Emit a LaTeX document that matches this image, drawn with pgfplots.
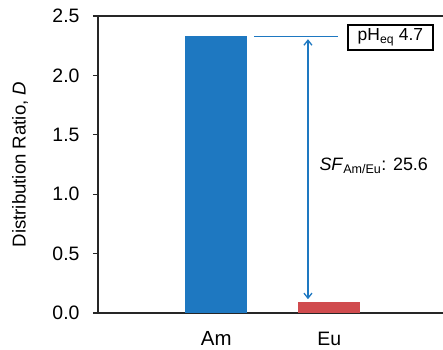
\documentclass[border=0pt]{standalone}
\usepackage{fontspec}
\setmainfont{Liberation Sans}
\usepackage{pgfplots}
\pgfplotsset{compat=1.18}
\usetikzlibrary{arrows.meta}
\definecolor{amblue}{RGB}{30,120,193}
\definecolor{eured}{RGB}{208,75,78}
\begin{document}
\begin{tikzpicture}
\begin{axis}[
  scale only axis, width=345bp, height=297bp,
  xmin=-1.046, xmax=2.007, ymin=0, ymax=2.5,
  axis x line*=box, axis y line*=left,
  axis line style={line width=1.3bp, color=black!85},
  xtick={0,1}, xticklabels={{\fontsize{20.5}{22}\selectfont Am},{Eu}},
  xtick style={draw=none},
  xticklabel style={anchor=base, yshift=-27bp},
  ytick={0,0.5,1,1.5,2,2.5},
  ytick style={line width=1.3bp, color=black!85},
  tick align=outside, major tick length=5bp,
  tick label style={font=\fontsize{19.5}{22}\selectfont},
  yticklabel style={xshift=-10bp, /pgf/number format/.cd, fixed, fixed zerofill, precision=1, assume math mode=true},
  every axis y label/.style={at={(axis description cs:-0.226,0.5)}, rotate=90, anchor=center},
  ylabel={Distribution Ratio, \textit{D}},
  label style={font=\fontsize{18.7}{21}\selectfont},
  clip=false,
]
\addplot[ybar, bar width=62bp, bar shift=0pt, fill=amblue, draw=none] coordinates {(0,2.33)};
\addplot[ybar, bar width=62bp, bar shift=0pt, fill=eured, draw=none] coordinates {(1,0.091)};
\draw[amblue, line width=1.3bp] (axis cs:0.335,2.33) -- (axis cs:1.078,2.33);
\draw[amblue, line width=1.3bp, {Straight Barb[length=5bp,width=8bp]}-{Straight Barb[length=5bp,width=8bp]}, shorten <=3bp, shorten >=3bp] (axis cs:0.812,0.091) -- (axis cs:0.812,2.33);
\node[draw, line width=1.2bp, minimum width=85bp, minimum height=25bp, font=\fontsize{17.5}{19}\selectfont] at (axis cs:1.542,2.319) {pH\textsubscript{eq} 4.7};
\node[anchor=west, font=\fontsize{18}{20}\selectfont] at (axis cs:0.883,1.237) {\textit{SF}\textsubscript{Am/Eu}: 25.6};
\end{axis}
\pgfresetboundingbox
\path (-98bp,-37bp) rectangle (345bp,313bp);
\end{tikzpicture}
\end{document}
